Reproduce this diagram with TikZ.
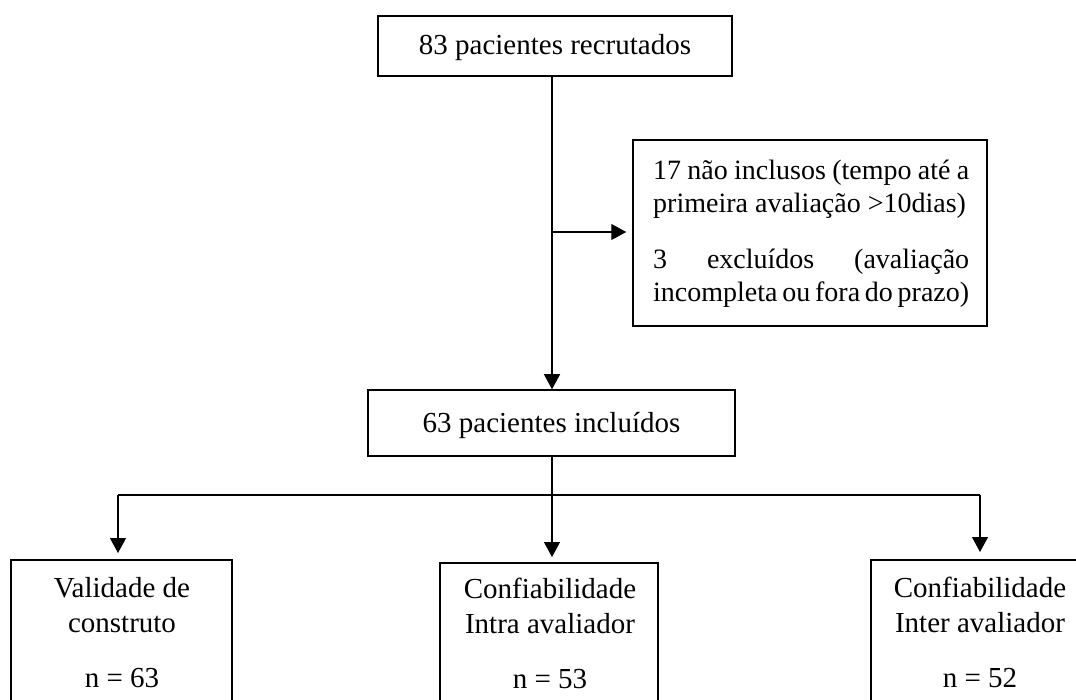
\documentclass[tikz,border=0pt]{standalone}
\usepackage{fontspec}
\setmainfont{Liberation Serif}
\usetikzlibrary{arrows.meta}
\begin{document}
\begin{tikzpicture}[x=1pt,y=-1pt,
  box/.style={draw, line width=1.5pt, inner sep=0pt, rectangle},
  conn/.style={line width=1.2pt},
  arr/.style={conn, -{Triangle[length=15pt,width=16pt]}},
  lbl/.style={inner sep=0pt, font=\fontsize{29}{35}\selectfont},
  onebox/.style={box, font=\fontsize{29}{35}\selectfont, text height=22pt, text depth=4pt}]
\clip (0,0) rectangle (1076,700);
\fill[white] (0,0) rectangle (1076,700);
% boxes
\node[onebox, minimum width=354pt, minimum height=60pt] (rec) at (555,46) {83 pacientes recrutados};
\node[onebox, minimum width=367pt, minimum height=66pt] (inc) at (551.5,423) {63 pacientes incluídos};
\node[box, minimum width=354pt, minimum height=186pt] (exc) at (810,233) {};
\node[lbl, anchor=base west] (exctext) at (653,180) {\parbox[t]{316pt}{\fontsize{28}{33}\selectfont
  \makebox[\linewidth][s]{17 não inclusos (tempo até a}\\
  \mbox{primeira avaliação >10dias)}\par\vspace{23pt}
  \makebox[\linewidth][s]{3 excluídos (avaliação}\\
  \makebox[\linewidth][s]{incompleta ou fora do prazo)}}};
\node[box, anchor=north, minimum width=221pt, minimum height=170pt] (val) at (121.5,559) {};
\node[box, anchor=north, minimum width=218pt, minimum height=170pt] (intra) at (549,562) {};
\node[box, anchor=north, minimum width=218pt, minimum height=170pt] (inter) at (980,559) {};
\node[lbl, anchor=base] (valt) at (122,597) {\begin{tabular}[t]{@{}c@{}}Validade de\\construto\\[20pt]n = 63\end{tabular}};
\node[lbl, anchor=base] (intrat) at (550,598) {\begin{tabular}[t]{@{}c@{}}Confiabilidade\\Intra avaliador\\[20pt]n = 53\end{tabular}};
\node[lbl, anchor=base] (intert) at (980,597) {\begin{tabular}[t]{@{}c@{}}Confiabilidade\\Inter avaliador\\[20pt]n = 52\end{tabular}};
% connectors
\coordinate (tx) at (552,0);
\coordinate (branch) at (552,232);
\coordinate (bl) at (118,495);
\coordinate (br) at (980,495);
\draw[arr] (rec.south -| tx) -- (inc.north -| tx);
\draw[arr, shorten >=6pt] (branch) -- (branch -| exc.west);
\draw[conn] (bl) -- (br);
\draw[arr, shorten >=5pt] (inc.south -| tx) -- (intra.north -| tx);
\draw[arr, shorten >=6pt] (bl) -- (bl |- val.north);
\draw[arr, shorten >=7pt] (br) -- (br |- inter.north);
\end{tikzpicture}
\end{document}
